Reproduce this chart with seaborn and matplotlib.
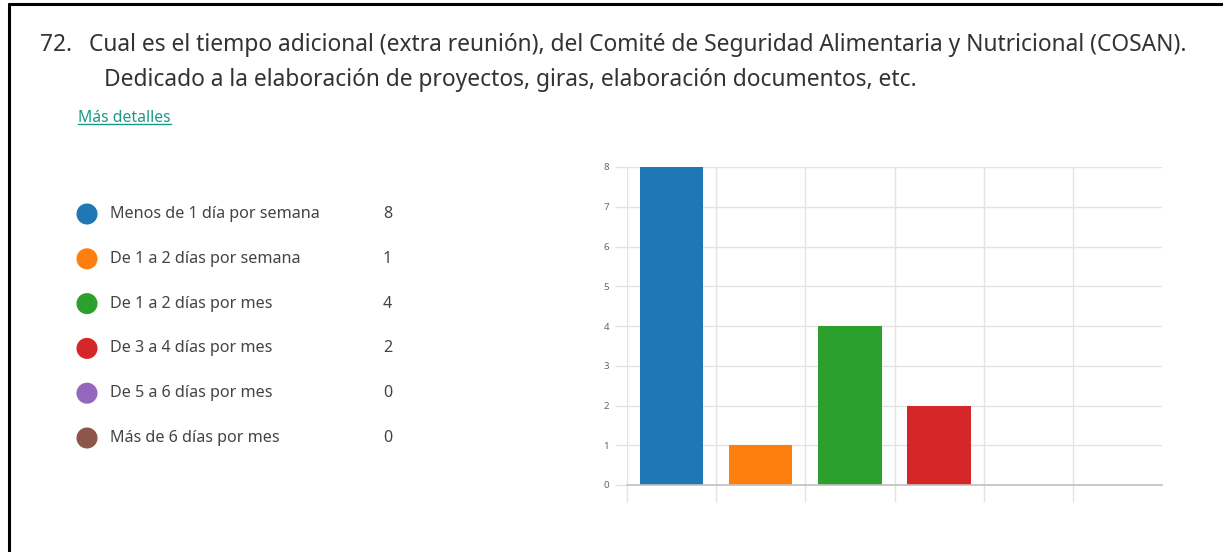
import matplotlib
matplotlib.use("Agg")
import matplotlib.pyplot as plt
import seaborn as sns
import pandas as pd
from matplotlib.lines import Line2D

categories = ["Menos de 1 día por semana", "De 1 a 2 días por semana", "De 1 a 2 días por mes",
              "De 3 a 4 días por mes", "De 5 a 6 días por mes", "Más de 6 días por mes"]
counts = [8, 1, 4, 2, 0, 0]
colors = ["#1f77b4", "#ff7f0e", "#2ca02c", "#d62728", "#9467bd", "#8c564b"]
question_number = "72."
title_line1 = "Cual es el tiempo adicional (extra reunión), del Comité de Seguridad Alimentaria y Nutricional (COSAN)."
title_line2 = "Dedicado a la elaboración de proyectos, giras, elaboración documentos, etc."
link_text = "Más detalles"
y_ticks = [0, 1, 2, 3, 4, 5, 6, 7, 8]

sns.set_theme(style="white")
plt.rcParams['font.family'] = ['Noto Sans', 'DejaVu Sans']

W, H = 1223, 552
fig = plt.figure(figsize=(W / 100, H / 100), dpi=100)
fig.patch.set_facecolor("white")

def fx(px):
    return px / W

def fy(py):
    return 1 - py / H

# Border (left and top)
fig.add_artist(Line2D([fx(9), fx(9)], [0, fy(4)], color="black", lw=2.2, transform=fig.transFigure))
fig.add_artist(Line2D([fx(9), 1], [fy(4), fy(4)], color="black", lw=2.2, transform=fig.transFigure))

# Title
tsize = 16.4
fig.text(fx(40), fy(45), question_number, fontsize=tsize, color="#333333", va="center", ha="left")
fig.text(fx(89), fy(45), title_line1, fontsize=tsize, color="#333333", va="center", ha="left")
fig.text(fx(104), fy(80), title_line2, fontsize=tsize, color="#333333", va="center", ha="left")
lt = fig.text(fx(78), fy(118), link_text, fontsize=11.3, color="#1a9a86", va="center", ha="left")
fig.canvas.draw()
bb = lt.get_window_extent().transformed(fig.transFigure.inverted())
fig.add_artist(Line2D([bb.x0, bb.x1], [bb.y0 + 0.004, bb.y0 + 0.004], color="#1a9a86", lw=1.0,
                      transform=fig.transFigure))

df = pd.DataFrame({"cat": categories, "n": counts})

# Legend panel
lx0, lx1 = 70, 400
ly0, ly1 = 191.6, 460.4
lax = fig.add_axes([fx(lx0), fy(ly1), fx(lx1 - lx0), (ly1 - ly0) / H])
ldf = pd.DataFrame({"cat": categories, "row": list(range(len(categories))), "x": [17] * len(categories)})
sns.scatterplot(data=ldf, x="x", y="row", hue="cat", palette=colors, s=230, legend=False,
                edgecolor="none", ax=lax)
lax.set_xlim(0, lx1 - lx0)
lax.set_ylim(len(categories) - 0.5, -0.5)
for i, (c, n) in enumerate(zip(categories, counts)):
    lax.text(40, i, c, fontsize=11.6, color="#444444", va="center", ha="left")
    lax.text(322, i, str(n), fontsize=11.6, color="#444444", va="center", ha="right")
lax.axis("off")

# Bar chart
ax = fig.add_axes([fx(627), fy(485), fx(1162 - 627), (485 - 167) / H])
sns.barplot(data=df, x="cat", y="n", hue="cat", palette=colors, width=0.71, legend=False,
            ax=ax, saturation=1, linewidth=0)
ax.set_xlim(-0.5, len(categories) - 0.5)
ax.set_ylim(0, 8)
ax.set_yticks(y_ticks)
ax.set_yticklabels([str(t) for t in y_ticks], fontsize=7, color="#666666")
ax.set_xticks([i - 0.5 for i in range(len(categories))])
ax.set_xticklabels([""] * len(categories))
ax.set_xlabel("")
ax.set_ylabel("")
ax.grid(True, color="#e3e3e3", lw=1.0)
ax.set_axisbelow(True)
ax.tick_params(axis="x", length=12, width=1.0, color="#e3e3e3", direction="out", bottom=True)
ax.tick_params(axis="y", length=9, width=1.0, color="#e3e3e3", direction="out", left=True, pad=4)
for s in ["top", "right", "left"]:
    ax.spines[s].set_visible(False)
ax.spines["bottom"].set_color("#c0c0c0")
ax.spines["bottom"].set_linewidth(1.2)

fig.savefig("out.png", dpi=100, facecolor="white")
